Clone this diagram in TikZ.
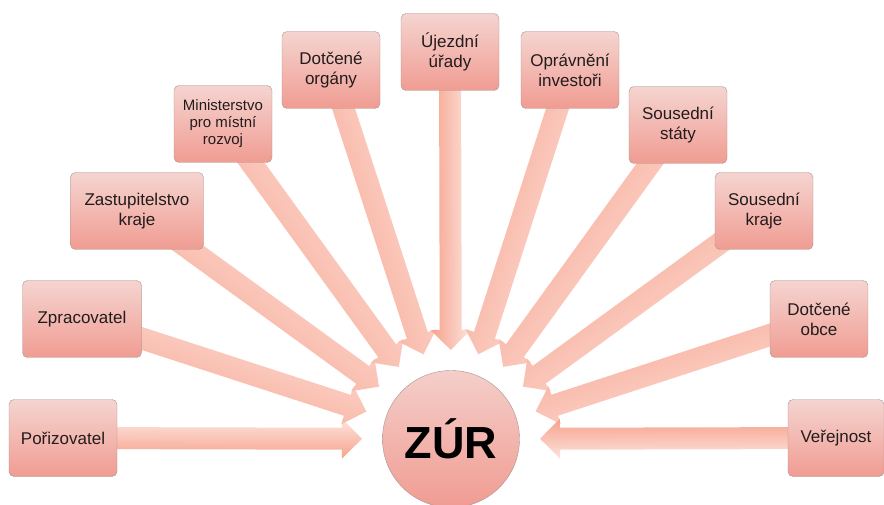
\documentclass[tikz,border=0pt]{standalone}
\usepackage{fontspec}
\setsansfont{Liberation Sans}
\usepackage{tikz}
\usetikzlibrary{shapes,arrows,positioning,calc}
\definecolor{boxtop}{HTML}{F5D4D0}
\definecolor{boxbot}{HTML}{F09C92}
\definecolor{boxline}{HTML}{A89490}
\definecolor{arrdark}{HTML}{F7A28C}
\definecolor{arrpale}{HTML}{FCE4DE}
\definecolor{txt}{HTML}{221C1C}
\pgfdeclarelayer{bg}
\pgfsetlayers{bg,main}
\tikzset{
    box/.style={rectangle, rounded corners=5pt, draw=boxline, top color=boxtop, bottom color=boxbot,
        text=txt, align=center, minimum width=98pt, minimum height=77pt, inner sep=2pt,
        font=\sffamily\fontsize{17}{20}\selectfont},
    hub/.style={circle, draw=boxline, top color=boxtop!90!boxbot, bottom color=boxbot,
        minimum size=137pt, inner sep=0pt, text=black, font=\sffamily\bfseries\fontsize{45}{50}\selectfont}
}

\begin{document}
\begin{tikzpicture}[x=1pt,y=1pt]
    \useasboundingbox (0,0) rectangle (884,504);
    % Centre
    \node[hub] (zur) at (451,65) {ZÚR};

    % Participants
    \node[box, minimum width=108pt] (por) at (63,66) {Pořizovatel};
    \node[box, minimum width=119pt] (zpr) at (82,185) {Zpracovatel};
    \node[box, minimum width=133pt] (zas) at (137,293) {Zastupitelstvo\\kraje};
    \node[box, font=\sffamily\fontsize{15}{17}\selectfont] (mmr) at (223,380) {Ministerstvo\\pro místní\\rozvoj};
    \node[box] (dor) at (331,434) {Dotčené\\orgány};
    \node[box] (uje) at (450,452) {Újezdní\\úřady};
    \node[box] (opr) at (570,434) {Oprávnění\\investoři};
    \node[box] (sst) at (678,379) {Sousední\\státy};
    \node[box] (skr) at (764,293) {Sousední\\kraje};
    \node[box] (dob) at (819,185) {Dotčené\\obce};
    \node[box, minimum width=96pt] (ver) at (836,66) {Veřejnost};

    % Block arrows into the centre
    \begin{pgfonlayer}{bg}
    \foreach \b in {por,zpr,zas,mmr,dor,uje,opr,sst,skr,dob,ver} {
        \pgfmathanglebetweenpoints{\pgfpointanchor{zur}{center}}{\pgfpointanchor{\b}{center}}
        \let\ang\pgfmathresult
        \shade[left color=arrdark, right color=arrpale, shading angle=\ang]
            ($(zur.center)!89pt!(\b.center)$)
            -- ($(zur.center)!109pt!(\b.center)!20pt!90:(\b.center)$)
            -- ($(zur.center)!109pt!(\b.center)!11pt!90:(\b.center)$)
            -- ($(\b.center)!11pt!-90:(zur.center)$)
            -- ($(\b.center)!11pt!90:(zur.center)$)
            -- ($(zur.center)!109pt!(\b.center)!11pt!-90:(\b.center)$)
            -- ($(zur.center)!109pt!(\b.center)!20pt!-90:(\b.center)$)
            -- cycle;
    }
    \end{pgfonlayer}
\end{tikzpicture}
\end{document}
